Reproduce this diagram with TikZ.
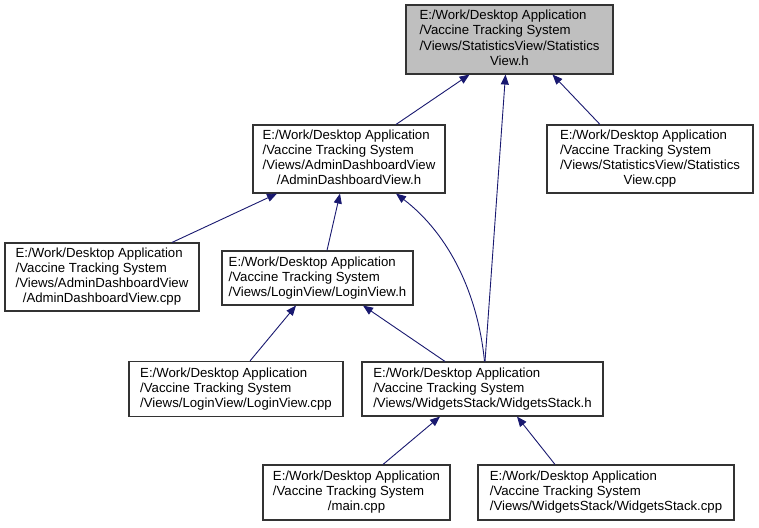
\documentclass[tikz,border=0pt]{standalone}
\usepackage{fontspec}
\setmainfont{Liberation Sans}
\usetikzlibrary{arrows.meta,calc}
\definecolor{edgeblue}{HTML}{191970}
\definecolor{graybg}{HTML}{BFBFBF}
\definecolor{boxline}{HTML}{333333}
\begin{document}
\begin{tikzpicture}[x=1pt,y=-1pt,
  box/.style={draw=boxline, line width=1.1pt, rectangle, inner sep=0pt,
    font=\fontsize{13.2}{15}\selectfont, align=center},
  edge/.style={draw=edgeblue, line width=0.9pt, {Triangle[length=10pt,width=8pt]}-}]
\useasboundingbox (0,0) rectangle (759,527);
\fill[white] (0,0) rectangle (759,527);

\node[box, fill=graybg, minimum width=207pt, minimum height=69pt] (top) at (509.5,39.5)
  {\begin{tabular}{@{}l@{}}E:/Work/Desktop Application\\/Vaccine Tracking System\\/Views/StatisticsView/Statistics\\\multicolumn{1}{@{}c@{}}{View.h}\end{tabular}};
\node[box, minimum width=192pt, minimum height=68pt] (adminh) at (349,159)
  {\begin{tabular}{@{}l@{}}E:/Work/Desktop Application\\/Vaccine Tracking System\\/Views/AdminDashboardView\\\multicolumn{1}{@{}c@{}}{/AdminDashboardView.h}\end{tabular}};
\node[box, minimum width=206pt, minimum height=68pt] (statcpp) at (650,159)
  {\begin{tabular}{@{}l@{}}E:/Work/Desktop Application\\/Vaccine Tracking System\\/Views/StatisticsView/Statistics\\\multicolumn{1}{@{}c@{}}{View.cpp}\end{tabular}};
\node[box, minimum width=194pt, minimum height=68pt] (admincpp) at (102,277)
  {\begin{tabular}{@{}l@{}}E:/Work/Desktop Application\\/Vaccine Tracking System\\/Views/AdminDashboardView\\\multicolumn{1}{@{}c@{}}{/AdminDashboardView.cpp}\end{tabular}};
\node[box, minimum width=191pt, minimum height=54pt] (loginh) at (317.5,278)
  {\begin{tabular}{@{}l@{}}E:/Work/Desktop Application\\/Vaccine Tracking System\\/Views/LoginView/LoginView.h\end{tabular}};
\node[box, minimum width=214pt, minimum height=55pt] (logincpp) at (236,389)
  {\begin{tabular}{@{}l@{}}E:/Work/Desktop Application\\/Vaccine Tracking System\\/Views/LoginView/LoginView.cpp\end{tabular}};
\node[box, minimum width=241pt, minimum height=54pt] (wh) at (482.5,389)
  {\begin{tabular}{@{}l@{}}E:/Work/Desktop Application\\/Vaccine Tracking System\\/Views/WidgetsStack/WidgetsStack.h\end{tabular}};
\node[box, minimum width=187pt, minimum height=55pt] (maincpp) at (356.5,492.5)
  {\begin{tabular}{@{}l@{}}E:/Work/Desktop Application\\/Vaccine Tracking System\\\multicolumn{1}{@{}c@{}}{/main.cpp}\end{tabular}};
\node[box, minimum width=256pt, minimum height=55pt] (wcpp) at (606,492.5)
  {\begin{tabular}{@{}l@{}}E:/Work/Desktop Application\\/Vaccine Tracking System\\/Views/WidgetsStack/WidgetsStack.cpp\end{tabular}};

\draw[edge] ([xshift=-40pt]top.south) -- ([xshift=47pt]adminh.north);
\draw[edge] ([xshift=-4pt]top.south) -- ([xshift=2.5pt]wh.north);
\draw[edge] ([xshift=43pt]top.south) -- ([xshift=-50pt]statcpp.north);
\draw[edge] ([xshift=-72pt]adminh.south) -- ([xshift=70pt]admincpp.north);
\draw[edge] ([xshift=-9pt]adminh.south) -- ([xshift=9.5pt]loginh.north);
\draw[edge] ([xshift=47pt]adminh.south) .. controls (450,235) and (478,295) .. ([xshift=2pt]wh.north);
\draw[edge] ([xshift=-21.5pt]loginh.south) -- ([xshift=14pt]logincpp.north);
\draw[edge] ([xshift=45.5pt]loginh.south) -- ([xshift=-37.5pt]wh.north);
\draw[edge] ([xshift=-42.5pt]wh.south) -- ([xshift=26.5pt]maincpp.north);
\draw[edge] ([xshift=34.5pt]wh.south) -- ([xshift=-51pt]wcpp.north);
\end{tikzpicture}
\end{document}
